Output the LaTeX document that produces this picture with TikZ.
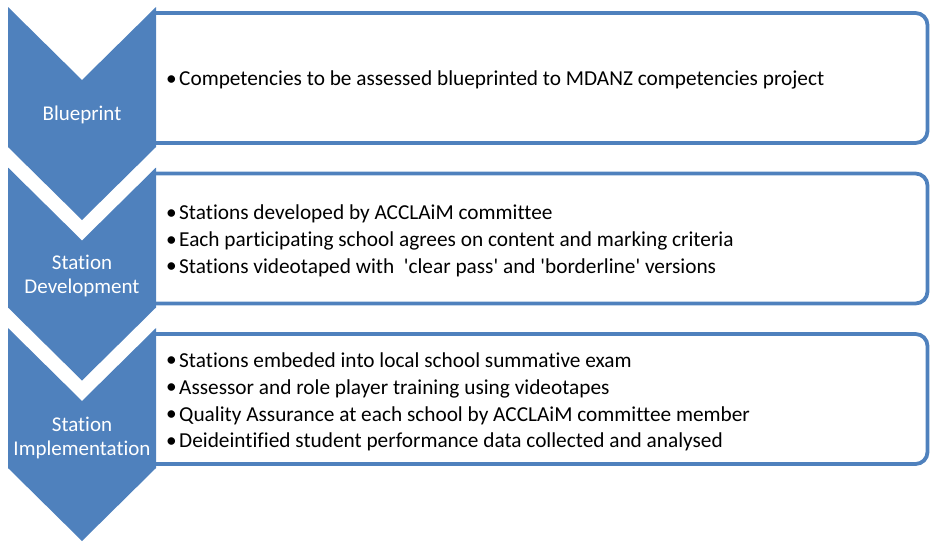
\documentclass[tikz,border=0pt]{standalone}
\usepackage{fontspec}
\setmainfont{Carlito}[Ligatures={NoCommon}]
\usetikzlibrary{positioning}
\definecolor{officeBlue}{HTML}{4F81BD}
\newcommand{\stepitem}{\makebox[13pt][l]{\raisebox{0.5pt}{•}}}

\begin{document}
\begin{tikzpicture}[x=1pt,y=-1pt]
\tikzset{ChevronShape/.style={fill=officeBlue, draw=none}}
\tikzset{StepBox/.style={draw=officeBlue, line width=3.8pt, rounded corners=12pt}}
\tikzset{StepLabel/.style={
  text=white,
  align=center,
  inner sep=0pt,
  font=\fontsize{21}{23.5}\selectfont,
}}
\tikzset{BulletList/.style={
  anchor=west,
  align=left,
  text=black,
  inner sep=0pt,
  font=\fontsize{21.3}{26.8}\selectfont,
}}

\useasboundingbox (0,0) rectangle (931,542);

% boxes first, the chevrons cover their open left ends
\foreach \t in {7,167.5,328} {
  \draw[StepBox] (155,\t+6) -- (927.5,\t+6) -- (927.5,\t+136) -- (155,\t+136);
  \fill[ChevronShape] (8,\t) -- (82,\t+73) -- (156,\t) -- (156,\t+140)
        -- (82,\t+213) -- (8,\t+140) -- cycle;
}

\node[StepLabel] (blueprint) at (82,115) {Blueprint};
\node[StepLabel] (development) at (82,276) {Station\\Development};
\node[StepLabel] (implementation) at (82,438) {Station\\Implementation};

\node[BulletList] (blueprintText) at (166,80) {
  \stepitem Competencies to be assessed blueprinted to MDANZ competencies project};
\node[BulletList] (developmentText) at (166,241) {
  \stepitem Stations developed by ACCLAiM committee\\
  \stepitem Each participating school agrees on content and marking criteria\\
  \stepitem Stations videotaped with\ \ \textquotesingle clear pass\textquotesingle\ and
            \textquotesingle borderline\textquotesingle\ versions};
\node[BulletList] (implementationText) at (166,402) {
  \stepitem Stations embeded into local school summative exam\\
  \stepitem Assessor and role player training using videotapes\\
  \stepitem Quality Assurance at each school by ACCLAiM committee member\\
  \stepitem Deideintified student performance data collected and analysed};
\end{tikzpicture}
\end{document}
